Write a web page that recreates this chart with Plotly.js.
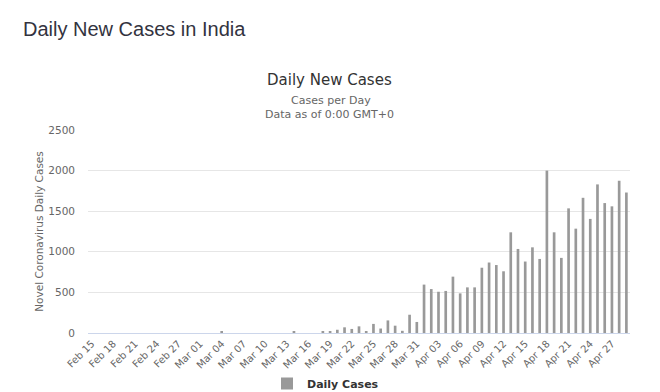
<!DOCTYPE html>
<html>
<head>
<meta charset="utf-8">
<script src="https://cdn.plot.ly/plotly-3.0.1.min.js"></script>
<style>html,body{margin:0;padding:0;background:#fff;}#chart{width:660px;height:392px;}</style>
</head>
<body>
<div id="chart"></div>
<script>
const dates = [
  "Feb 15","Feb 16","Feb 17","Feb 18","Feb 19","Feb 20","Feb 21","Feb 22","Feb 23","Feb 24",
  "Feb 25","Feb 26","Feb 27","Feb 28","Feb 29",
  "Mar 01","Mar 02","Mar 03","Mar 04","Mar 05","Mar 06","Mar 07","Mar 08","Mar 09","Mar 10",
  "Mar 11","Mar 12","Mar 13","Mar 14","Mar 15","Mar 16","Mar 17","Mar 18","Mar 19","Mar 20",
  "Mar 21","Mar 22","Mar 23","Mar 24","Mar 25","Mar 26","Mar 27","Mar 28","Mar 29","Mar 30",
  "Mar 31",
  "Apr 01","Apr 02","Apr 03","Apr 04","Apr 05","Apr 06","Apr 07","Apr 08","Apr 09","Apr 10",
  "Apr 11","Apr 12","Apr 13","Apr 14","Apr 15","Apr 16","Apr 17","Apr 18","Apr 19","Apr 20",
  "Apr 21","Apr 22","Apr 23","Apr 24","Apr 25","Apr 26","Apr 27","Apr 28","Apr 29"
];
const dailyCases = [
  0,0,0,0,0,0,0,0,0,0,
  0,0,0,0,0,
  0,0,0,22,0,0,0,0,0,0,
  0,0,0,14,0,0,0,15,22,40,
  70,50,82,22,112,55,155,90,27,225,
  136,
  596,541,508,518,694,488,562,562,804,868,
  837,760,1240,1035,880,1055,912,2000,1240,925,
  1535,1285,1665,1405,1830,1600,1560,1875,1730
];
const tickLabels = [
  "Feb 15","Feb 18","Feb 21","Feb 24","Feb 27","Mar 01","Mar 04","Mar 07","Mar 10","Mar 13",
  "Mar 16","Mar 19","Mar 22","Mar 25","Mar 28","Mar 31","Apr 03","Apr 06","Apr 09","Apr 12",
  "Apr 15","Apr 18","Apr 21","Apr 24","Apr 27"
];
const seriesName = "Daily Cases";

const W = 660, H = 392;
const M = {l: 88, r: 30, t: 130, b: 59};
const pw = W - M.l - M.r, ph = H - M.t - M.b;
const px = x => (x - M.l) / pw;
const py = y => (H - M.b - y) / ph;

const trace = {
  type: 'bar',
  x: dates,
  y: dailyCases,
  name: seriesName,
  marker: {color: '#999999'},
  hoverinfo: 'x+y'
};

const layout = {
  width: W, height: H,
  margin: Object.assign({autoexpand: false}, M),
  paper_bgcolor: '#ffffff',
  plot_bgcolor: '#ffffff',
  bargap: 0.63,
  font: {family: 'DejaVu Sans, sans-serif', color: '#666666'},
  showlegend: true,
  legend: {
    orientation: 'h',
    xref: 'container', yref: 'container',
    x: 267 / W, xanchor: 'left',
    y: (H - 369) / H, yanchor: 'top',
    bgcolor: 'rgba(0,0,0,0)',
    font: {family: 'DejaVu Sans, sans-serif', size: 11, color: '#333333', weight: 'bold'}
  },
  xaxis: {
    type: 'category',
    categoryorder: 'array',
    categoryarray: dates,
    range: [-0.5, dates.length - 0.5],
    tickmode: 'array',
    tickvals: tickLabels,
    ticktext: tickLabels,
    tickangle: -45,
    tickfont: {size: 10, color: '#666666'},
    showgrid: false,
    showline: true,
    linecolor: '#ccd6eb',
    linewidth: 1,
    ticks: '',
    zeroline: false,
    automargin: false,
    fixedrange: true
  },
  yaxis: {
    range: [0, 2500],
    dtick: 500,
    tick0: 0,
    gridcolor: '#e6e6e6',
    gridwidth: 1,
    zeroline: false,
    showline: false,
    ticks: '',
    ticklabelstandoff: 12,
    automargin: false,
    tickfont: {size: 10.5, color: '#666666'},
    title: {text: 'Novel Coronavirus Daily Cases', font: {size: 10.5, color: '#666666'}, standoff: 2},
    fixedrange: true
  },
  annotations: [
    {text: 'Daily New Cases in India', xref: 'paper', yref: 'paper', x: px(21), y: py(29),
     xanchor: 'left', yanchor: 'middle', showarrow: false,
     font: {family: 'Liberation Sans, Arial, sans-serif', size: 20, color: '#333340'}},
    {text: 'Daily New Cases', xref: 'paper', yref: 'paper', x: px(329.5), y: py(80.5),
     xanchor: 'center', yanchor: 'middle', showarrow: false,
     font: {family: 'DejaVu Sans, sans-serif', size: 15, color: '#333333'}},
    {text: 'Cases per Day', xref: 'paper', yref: 'paper', x: px(330.5), y: py(100.5),
     xanchor: 'center', yanchor: 'middle', showarrow: false,
     font: {family: 'DejaVu Sans, sans-serif', size: 11, color: '#666666'}},
    {text: 'Data as of 0:00 GMT+0', xref: 'paper', yref: 'paper', x: px(329), y: py(114),
     xanchor: 'center', yanchor: 'middle', showarrow: false,
     font: {family: 'DejaVu Sans, sans-serif', size: 11, color: '#666666'}}
  ]
};

Plotly.newPlot('chart', [trace], layout, {displayModeBar: false});
</script>
</body>
</html>
